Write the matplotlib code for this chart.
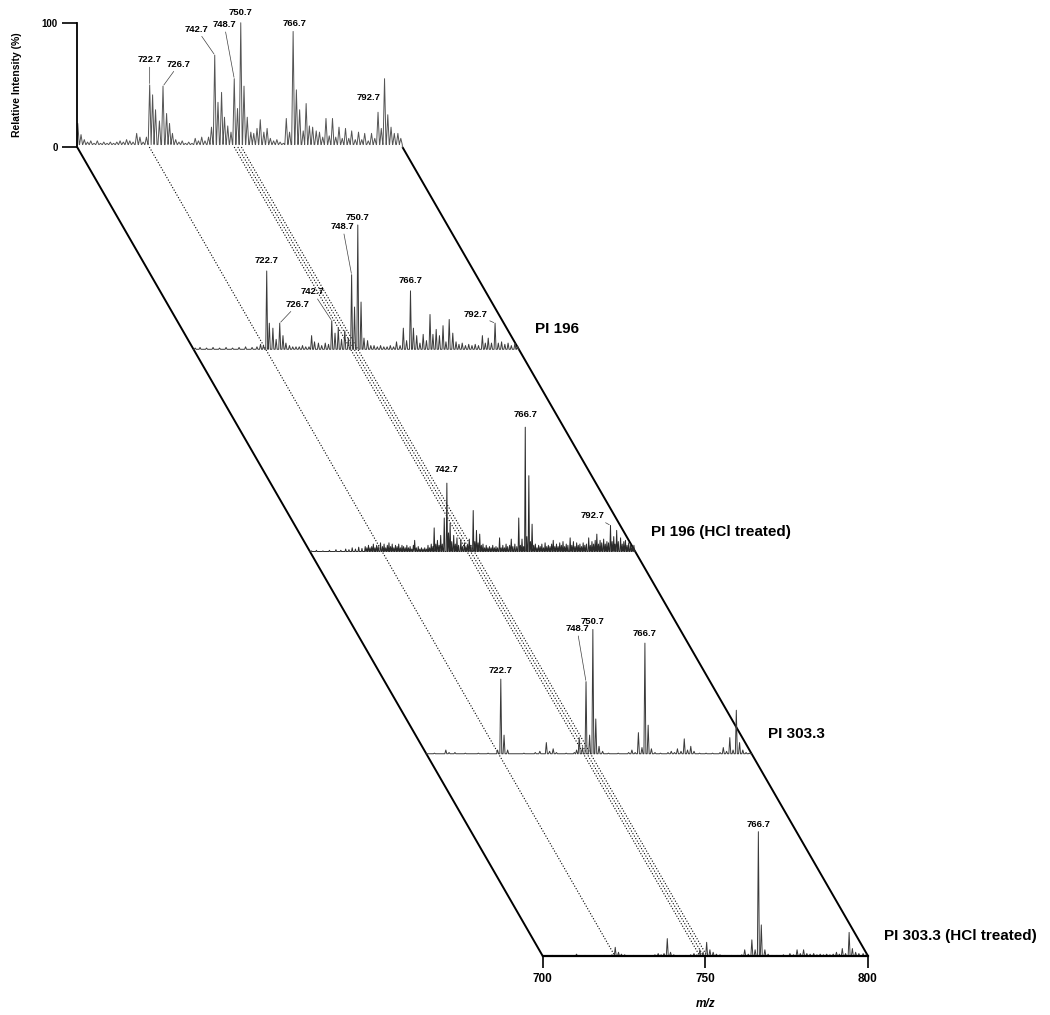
import numpy as np
import matplotlib.pyplot as plt

plt.rcParams['font.family'] = ['Liberation Sans', 'DejaVu Sans']
plt.rcParams['font.weight'] = 'bold'

## spectra: peak centres (m/z) and relative intensity (%)

# top (reference) spectrum
top_mz = [700.2, 701.2, 702.2, 703.2, 704.2, 705.2, 706.2, 707.2, 708.2, 709.2,
          710.2, 711.2, 712.2, 713.2, 714.2, 715.2, 716.2, 717.2, 718.3, 719.3,
          720.3, 721.3, 722.3, 723.2, 724.1, 725.3, 726.4, 727.5, 728.4, 729.3,
          730.3, 731.3, 732.3, 733.3, 734.3, 735.3, 736.3, 737.3, 738.3, 739.3,
          740.4, 741.3, 742.3, 743.3, 744.4, 745.3, 746.3, 747.3, 748.3, 749.3,
          750.3, 751.3, 752.3, 753.4, 754.3, 755.3, 756.3, 757.4, 758.4, 759.4,
          760.4, 761.4, 762.4, 763.4, 764.3, 765.3, 766.4, 767.4, 768.4, 769.5,
          770.4, 771.4, 772.4, 773.5, 774.5, 775.5, 776.5, 777.5, 778.5, 779.5,
          780.5, 781.5, 782.5, 783.5, 784.4, 785.5, 786.5, 787.5, 788.4, 789.5,
          790.5, 791.5, 792.5, 793.5, 794.5, 795.5, 796.5, 797.5, 798.6, 799.5]
top_int = [19, 10, 6, 4, 5, 3, 5, 3, 4, 3,
           4, 3, 4, 5, 4, 6, 5, 4, 11, 8,
           4, 8, 50, 42, 30, 21, 49, 27, 19, 11,
           6, 4, 5, 3, 4, 3, 7, 5, 8, 5,
           8, 16, 74, 36, 44, 24, 17, 12, 55, 31,
           100, 49, 24, 12, 11, 15, 22, 12, 15, 7,
           5, 6, 4, 3, 23, 12, 93, 46, 30, 13,
           35, 17, 16, 13, 12, 8, 23, 9, 23, 8,
           16, 7, 15, 7, 13, 6, 12, 6, 11, 5,
           11, 7, 28, 15, 55, 26, 16, 11, 11, 7]

# PI 196
pi196_mz = [700.5, 702.0, 704.0, 706.0, 708.0, 710.0, 712.0, 714.0, 716.0, 718.0,
            719.5, 720.6, 721.5, 722.5, 723.3, 724.4, 725.4, 726.5, 727.5, 728.4,
            729.5, 730.5, 731.5, 732.5, 733.5, 734.5, 735.5, 736.3, 737.2, 738.4,
            739.4, 740.5, 741.5, 742.5, 743.5, 744.5, 745.5, 746.5, 747.6, 748.6,
            749.5, 750.5, 751.5, 752.4, 753.5, 754.5, 755.5, 756.5, 757.5, 758.5,
            759.5, 760.5, 761.5, 762.4, 763.5, 764.5, 765.5, 766.7, 767.6, 768.6,
            769.6, 770.6, 771.6, 772.7, 773.6, 774.6, 775.6, 776.7, 777.6, 778.6,
            779.7, 780.7, 781.6, 782.6, 783.6, 784.6, 785.6, 786.6, 787.6, 788.8,
            789.7, 790.6, 791.6, 792.7, 793.7, 794.7, 795.7, 796.7, 797.7, 798.8,
            799.6]
pi196_int = [1, 1.5, 1, 1.5, 1, 1.5, 1, 1.5, 2, 1.5,
             2, 4, 3, 63, 21, 17, 8, 21, 11, 5,
             3, 2, 2, 2, 3, 2, 2, 11, 6, 5,
             3, 5, 4, 23, 13, 17, 8, 15, 9, 60,
             34, 100, 38, 9, 7, 3, 3, 2, 3, 2,
             2, 3, 2, 6, 3, 17, 7, 47, 17, 11,
             5, 12, 7, 28, 12, 16, 11, 19, 6, 24,
             13, 6, 4, 5, 3, 4, 3, 4, 3, 11,
             5, 9, 5, 21, 5, 6, 4, 5, 3, 5,
             3]

# PI 196 (HCl treated)
pi196h_mz = [700.5, 702.0, 704.0, 706.0, 708.0, 709.5, 711.0, 712.0, 713.0, 714.0,
             715.0, 716.0, 717.0, 717.5, 718.0, 718.5, 719.0, 719.5, 720.0, 720.5,
             721.0, 721.7, 722.3, 722.8, 723.3, 723.8, 724.3, 724.8, 725.3, 725.8,
             726.3, 726.8, 727.3, 727.8, 728.3, 728.8, 729.3, 729.8, 730.3, 730.8,
             731.3, 731.8, 732.2, 732.7, 733.3, 733.8, 734.3, 734.8, 735.3, 735.8,
             736.3, 736.8, 737.3, 737.8, 738.2, 738.7, 739.2, 739.7, 740.2, 740.7,
             741.3, 742.1, 742.6, 743.1, 743.6, 744.2, 744.7, 745.2, 745.7, 746.4,
             746.9, 747.5, 748.0, 748.5, 749.0, 749.5, 750.2, 750.7, 751.2, 751.7,
             752.2, 752.7, 753.2, 753.7, 754.2, 754.7, 755.2, 755.7, 756.2, 756.7,
             757.2, 757.7, 758.3, 758.8, 759.3, 759.8, 760.3, 760.8, 761.4, 761.9,
             762.4, 763.0, 763.6, 764.2, 764.7, 765.2, 765.7, 766.2, 766.7, 767.3,
             767.8, 768.3, 768.8, 769.3, 769.8, 770.3, 770.8, 771.3, 771.8, 772.3,
             772.8, 773.3, 773.8, 774.3, 774.8, 775.3, 775.8, 776.3, 776.8, 777.3,
             777.8, 778.3, 778.8, 779.3, 780.0, 780.5, 781.0, 781.5, 782.0, 782.5,
             783.0, 783.5, 784.0, 784.5, 785.0, 785.7, 786.2, 786.7, 787.2, 787.7,
             788.2, 788.7, 789.2, 789.7, 790.3, 790.8, 791.3, 791.8, 792.4, 792.9,
             793.4, 793.8, 794.3, 794.8, 795.5, 796.0, 796.5, 797.0, 797.5, 798.0,
             798.6, 799.1, 799.6]
pi196h_int = [0.5, 1, 0.5, 1, 1.5, 1, 2, 1.5, 3, 2,
              3.5, 2.5, 4, 3, 5, 3, 4, 6, 3, 5,
              4, 7, 4, 6, 3, 5, 7, 4, 6, 3,
              5, 4, 6, 3, 5, 4, 3, 5, 3, 4,
              2, 5, 9, 3, 4, 2, 3, 2, 3, 2,
              5, 3, 6, 4, 19, 6, 9, 5, 13, 6,
              27, 55, 15, 23, 8, 13, 6, 11, 5, 10,
              4, 7, 4, 6, 10, 5, 33, 8, 17, 7,
              14, 5, 6, 3, 5, 3, 4, 3, 5, 3,
              4, 3, 11, 3, 5, 3, 6, 4, 5, 10,
              4, 6, 4, 27, 5, 10, 4, 100, 12, 61,
              8, 22, 5, 6, 3, 5, 4, 6, 3, 7,
              4, 5, 4, 6, 9, 4, 6, 4, 7, 5,
              8, 4, 6, 5, 11, 5, 8, 4, 7, 5,
              6, 4, 7, 5, 6, 11, 5, 8, 6, 9,
              14, 6, 9, 7, 10, 6, 8, 7, 21, 8,
              12, 6, 17, 8, 11, 6, 8, 9, 5, 7,
              6, 4, 5]

# PI 303.3
pi303_mz = [702.5, 706.0, 707.0, 708.8, 712.0, 716.0, 719.0, 721.9, 722.9, 723.9,
            725.0, 730.0, 733.5, 734.9, 736.9, 737.9, 739.0, 740.0, 743.0, 745.5,
            746.2, 747.0, 748.0, 749.1, 750.2, 751.2, 752.1, 753.1, 754.2, 756.0,
            759.0, 762.2, 763.2, 764.2, 765.2, 766.3, 767.2, 768.2, 769.2, 770.3,
            772.0, 774.3, 775.3, 776.3, 777.2, 778.3, 779.3, 780.3, 781.3, 782.3,
            784.0, 786.0, 788.0, 790.3, 791.3, 792.3, 793.3, 794.3, 795.3, 796.3,
            797.3, 798.3, 799.3]
pi303_int = [0.5, 3, 1, 1, 0.5, 0.5, 0.5, 3, 60, 15,
             3, 0.5, 1, 2, 9, 2, 4, 1, 0.5, 1,
             3, 13, 5, 58, 15, 100, 28, 6, 2, 0.5,
             0.5, 1, 3, 1, 17, 5, 89, 23, 4, 1,
             0.5, 1, 2, 1, 4, 2, 12, 3, 6, 2,
             0.5, 0.5, 0.5, 1, 5, 2, 13, 3, 35, 9,
             3, 1, 0.5]

# PI 303.3 (HCl treated)
pi303h_mz = [703.0, 706.0, 710.4, 711.2, 713.0, 716.0, 719.0, 721.3, 722.3, 723.3,
             724.2, 725.2, 728.0, 732.0, 734.5, 735.5, 736.4, 737.3, 738.3, 739.3,
             740.3, 742.0, 744.0, 745.5, 746.5, 747.4, 748.3, 749.3, 750.4, 751.4,
             752.4, 753.4, 754.5, 756.0, 758.0, 760.0, 761.2, 762.1, 763.2, 764.3,
             765.3, 766.3, 767.2, 768.3, 769.3, 770.5, 772.0, 774.0, 776.0, 777.1,
             778.2, 779.2, 780.2, 781.2, 782.2, 783.3, 784.3, 785.3, 786.3, 787.3,
             788.3, 789.3, 790.3, 791.2, 792.1, 793.1, 794.2, 795.2, 796.2, 797.2,
             798.5, 799.4]
pi303h_int = [0.5, 0.5, 1.5, 0.5, 0.5, 0.5, 0.5, 1, 7, 3,
              1.5, 1, 0.5, 0.5, 1, 2, 1, 2, 14, 3,
              1, 0.5, 0.5, 1, 2, 1, 5, 3, 11, 5,
              3, 1.5, 1, 0.5, 0.5, 0.5, 1, 5, 1.5, 13,
              5, 100, 25, 5, 1.5, 0.5, 0.5, 1, 2, 1,
              5, 2, 5, 2, 1.5, 2, 1, 1.5, 1, 1.5,
              1, 1.5, 3, 1.5, 6, 2, 19, 6, 3, 2,
              2, 1]

names = ['', 'PI 196', 'PI 196 (HCl treated)', 'PI 303.3', 'PI 303.3 (HCl treated)']
spectra = [(top_mz, top_int), (pi196_mz, pi196_int), (pi196h_mz, pi196h_int),
           (pi303_mz, pi303_int), (pi303h_mz, pi303h_int)]

# labelled peaks per spectrum
peak_labels = [['722.7', '726.7', '742.7', '748.7', '750.7', '766.7', '792.7'],
               ['722.7', '726.7', '742.7', '748.7', '750.7', '766.7', '792.7'],
               ['742.7', '766.7', '792.7'],
               ['722.7', '748.7', '750.7', '766.7'],
               ['766.7']]
# label offsets from peak apex (pixels) and whether a leader line is drawn
label_off = [[(0, 25), (16, 22), (-18, 26), (-10, 54), (0, 10), (1, 8), (-9, 15)],
             [(0, 10), (18, 19), (-19, 29), (-9, 48), (0, 7), (0, 10), (-20, 9)],
             [(0, 14), (0, 13), (-18, 10)],
             [(0, 9), (-9, 53), (0, 8), (0, 10)],
             [(0, 7)]]
label_lead = [[True, True, True, True, False, False, False],
              [False, True, True, True, False, False, True],
              [False, False, True],
              [False, True, False, False],
              [False]]

# dotted guide lines (m/z)
guide_mz = [722.2, 748.3, 749.4, 750.5]

peak_w = [0.45, 0.3, 0.2, 0.3, 0.3]
valley = [2.0, 0, 0, 0, 0]
line_col = ['#555555', '#3a3a3a', '#2a2a2a', '#3a3a3a', '#3a3a3a']

# stacking offsets (m/z units, % units) per level
dx = 35.78
dy = 162.7


def profile(mz, inten, hw, base):
    xs, ys = [700], [0]
    for m, h in zip(mz, inten):
        xs += [m - hw, m, m + hw]
        ys += [base, h, base]
    xs.append(800)
    ys.append(0)
    return np.clip(np.array(xs), 700, 800), np.array(ys)


fig = plt.figure(figsize=(10.5, 10.15), dpi=100)
ax = fig.add_axes([0, 0, 1, 1])
ax.set_xlim(533.17, 855.95)
ax.set_ylim(-47.47, 769.1)

# slanted frame
ax.plot([700 - 4*dx, 700], [4*dy, 0], color='k', lw=1.4, solid_capstyle='butt')
ax.plot([800 - 4*dx, 800], [4*dy, 0], color='k', lw=1.4, solid_capstyle='butt')
for m in guide_mz:
    ax.plot([m - 4*dx, m], [4*dy, 0], color='k', lw=0.8, ls=(0, (1, 1.6)))

for i, (mz, inten) in enumerate(spectra):
    k = 4 - i
    xs, ys = profile(mz, inten, peak_w[i], valley[i])
    ax.plot(xs - k*dx, ys + k*dy, color=line_col[i], lw=0.7)
    mz_a, int_a = np.array(mz), np.array(inten)
    for txt, off, lead in zip(peak_labels[i], label_off[i], label_lead[i]):
        near = np.abs(mz_a - float(txt)) < 0.75
        j = np.flatnonzero(near)[np.argmax(int_a[near])]
        ax.annotate(txt, xy=(mz_a[j] - k*dx, int_a[j] + k*dy), xytext=off,
                    textcoords='offset pixels', ha='center', va='center',
                    fontsize=6.8, fontweight='bold',
                    arrowprops=dict(arrowstyle='-', lw=0.5, color='0.25',
                                    shrinkA=0, shrinkB=1) if lead else None)
    if names[i]:
        ax.annotate(names[i], xy=(800 - k*dx, k*dy), xytext=(16, 20),
                    textcoords='offset pixels', ha='left', va='center',
                    fontsize=11, fontweight='bold')

for s in ['top', 'right']:
    ax.spines[s].set_visible(False)
ax.spines['bottom'].set_position(('data', 0))
ax.spines['bottom'].set_bounds(700, 800)
ax.spines['bottom'].set_linewidth(1.6)
ax.spines['left'].set_position(('data', 700 - 4*dx))
ax.spines['left'].set_bounds(4*dy, 4*dy + 100)
ax.spines['left'].set_linewidth(1.3)
ax.set_xticks([700, 750, 800])
ax.set_yticks([4*dy, 4*dy + 100])
ax.set_yticklabels(['0', '100'])
ax.tick_params(axis='x', direction='out', length=8.5, width=1.2, pad=4, labelsize=8.5)
ax.tick_params(axis='y', direction='out', length=10.5, width=1.2, pad=3.5, labelsize=7)

ax.set_ylabel('Relative Intensity (%)', fontsize=7.5, fontweight='bold')
ax.yaxis.set_label_coords(539.9, 4*dy + 50, transform=ax.transData)
ax.set_xlabel('m/z', fontsize=8.5, fontweight='bold', style='italic')
ax.xaxis.set_label_coords(750, -33.5, transform=ax.transData)

fig.savefig('out.png', dpi=100)
